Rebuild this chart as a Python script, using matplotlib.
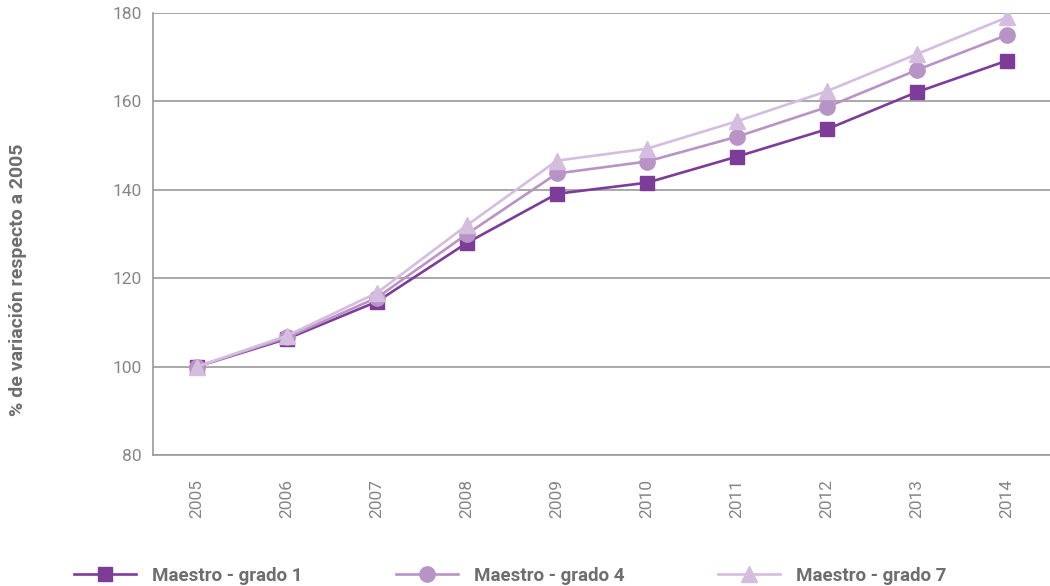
import numpy as np
import matplotlib
matplotlib.use("Agg")
import matplotlib.pyplot as plt
from matplotlib.lines import Line2D

years = ['2005', '2006', '2007', '2008', '2009', '2010', '2011', '2012', '2013', '2014']
grado1 = [100, 106.3, 114.7, 128.0, 139.1, 141.6, 147.5, 153.7, 162.1, 169.2]
grado4 = [100, 106.6, 115.6, 130.0, 143.7, 146.4, 152.0, 158.7, 167.1, 175.0]
grado7 = [100, 107.0, 116.7, 132.0, 146.6, 149.3, 155.5, 162.3, 170.7, 179.0]
labels = ['Maestro - grado 1', 'Maestro - grado 4', 'Maestro - grado 7']

c1, c4, c7 = '#7d3c98', '#b894c6', '#d5bde0'
grid_c = '#9a9a9a'
txt_c = '#868686'

plt.rcParams['font.family'] = ['Roboto', 'DejaVu Sans']

fig = plt.figure(figsize=(10.5, 5.86), dpi=100)
ax = fig.add_axes([153/1050, 1 - 455/586, 1 - 153/1050, (455 - 13)/586])

x = np.arange(len(years))
ax.plot(x, grado1, color=c1, lw=1.9, marker='s', ms=10, label=labels[0], zorder=3)
ax.plot(x, grado4, color=c4, lw=1.9, marker='o', ms=11, label=labels[1], zorder=4)
ax.plot(x, grado7, color=c7, lw=1.9, marker='^', ms=11, label=labels[2], zorder=5)

ax.set_xlim(-0.49, 9.48)
ax.set_ylim(80, 180)
ax.set_yticks([80, 100, 120, 140, 160, 180])
ax.set_xticks(x)
ax.set_xticklabels(years, rotation=90)
ax.tick_params(length=0, labelsize=12.5, labelcolor=txt_c)
ax.tick_params(axis='x', pad=17)
ax.tick_params(axis='y', pad=8)
ax.yaxis.grid(True, color=grid_c, lw=1.2)
ax.set_axisbelow(True)
for s in ['top', 'right']:
    ax.spines[s].set_visible(False)
for s in ['left', 'bottom']:
    ax.spines[s].set_color(grid_c)
    ax.spines[s].set_linewidth(1.2)

fig.text(18/1050, 1 - 280/586, '% de variación respecto a 2005', rotation=90,
         ha='center', va='center', fontsize=14, fontweight='bold', color='#6e6e6e')

# legend entries along the bottom
handles = [
    Line2D([], [], color=c1, lw=1.9, marker='s', ms=10),
    Line2D([], [], color=c4, lw=1.9, marker='o', ms=11),
    Line2D([], [], color=c7, lw=1.9, marker='^', ms=11),
]
xs = [65, 387, 709]
for h, lab, xp in zip(handles, labels, xs):
    leg = fig.legend([h], [lab], loc='center left', bbox_to_anchor=(xp/1050, 1 - 576/586),
                     frameon=False, handlelength=3.3, handletextpad=0.85, borderpad=0,
                     prop={'size': 13.5, 'weight': 'bold'})
    for t in leg.get_texts():
        t.set_color('#6e6e6e')

fig.savefig('out.png', dpi=100)
